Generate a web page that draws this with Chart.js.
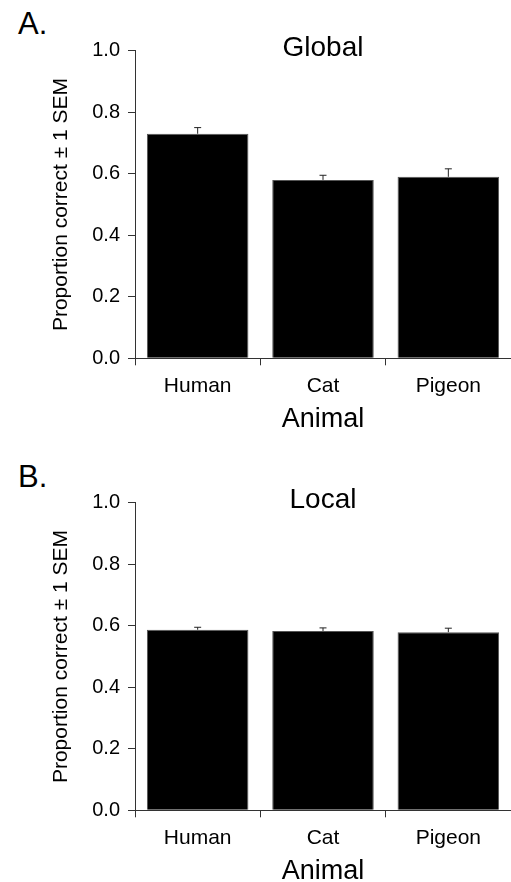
<!DOCTYPE html>
<html>
<head>
<meta charset="utf-8">
<title>Global / Local</title>
<script src="https://cdn.jsdelivr.net/npm/chart.js@4"></script>
<style>
  body { margin: 0; width: 511px; height: 882px; overflow: hidden; background: #fff; position: relative; }
  canvas { position: absolute; left: 0; }
  .panel { position: absolute; left: 18px; font: 31px/1 "Liberation Sans", Arial, sans-serif; color: #000; }
</style>
</head>
<body>
<div class="panel" style="top:8px">A.</div>
<canvas id="globalChart" width="511" height="440" style="top:0"></canvas>
<div class="panel" style="top:461px">B.</div>
<canvas id="localChart" width="511" height="440" style="top:452px"></canvas>
<script>
const animals = ["Human", "Cat", "Pigeon"];
const globalMeans = [0.73, 0.58, 0.59];
const globalSem = [0.02, 0.015, 0.026];
const localMeans = [0.587, 0.583, 0.579];
const localSem = [0.008, 0.01, 0.013];
const yTicks = [0, 0.2, 0.4, 0.6, 0.8, 1.0];

const FONT = "'Liberation Sans', Arial, Helvetica, sans-serif";

// upward error bars (+1 SEM) with a small cap
const errorBars = {
  id: "errorBars",
  afterDatasetsDraw(chart) {
    const { ctx, scales } = chart;
    chart.data.datasets.forEach((ds, i) => {
      const meta = chart.getDatasetMeta(i);
      meta.data.forEach((bar, j) => {
        const y0 = scales.y.getPixelForValue(ds.data[j]);
        const y1 = scales.y.getPixelForValue(ds.data[j] + ds.sem[j]);
        ctx.save();
        ctx.strokeStyle = "#222";
        ctx.lineWidth = 1;
        ctx.beginPath();
        ctx.moveTo(bar.x, y0);
        ctx.lineTo(bar.x, y1);
        ctx.moveTo(bar.x - 3.5, y1);
        ctx.lineTo(bar.x + 3.5, y1);
        ctx.stroke();
        ctx.restore();
      });
    });
  },
};

function makeChart(id, title, means, sem) {
  return new Chart(document.getElementById(id), {
    type: "bar",
    data: {
      labels: animals,
      datasets: [
        {
          data: means,
          sem: sem,
          backgroundColor: "#000",
          borderColor: "#555",
          borderWidth: 1,
          barPercentage: 0.81,
          categoryPercentage: 1,
        },
      ],
    },
    plugins: [errorBars],
    options: {
      responsive: false,
      animation: false,
      layout: { padding: 0 },
      plugins: {
        legend: { display: false },
        tooltip: { enabled: false },
        title: {
          display: true,
          text: title,
          fullSize: false,
          color: "#000",
          font: { family: FONT, size: 28, weight: "normal" },
          padding: { top: 31.2, bottom: -14.1 },
        },
      },
      scales: {
        x: {
          offset: true,
          grid: { drawOnChartArea: false, tickLength: 7, color: "#333" },
          border: { color: "#333" },
          ticks: { color: "#000", padding: 8, font: { family: FONT, size: 21 } },
          title: {
            display: true,
            text: "Animal",
            color: "#000",
            font: { family: FONT, size: 27 },
            padding: { top: 0, bottom: 4 },
          },
          afterFit(scale) {
            scale.height = 81.7;
          },
        },
        y: {
          min: 0,
          max: 1,
          afterBuildTicks(scale) {
            scale.ticks = yTicks.map((v) => ({ value: v }));
          },
          grid: { drawOnChartArea: false, tickLength: 7, color: "#333" },
          border: { color: "#333" },
          ticks: {
            color: "#000",
            padding: 8,
            font: { family: FONT, size: 20 },
            callback: (v) => v.toFixed(1),
          },
          title: {
            display: true,
            text: "Proportion correct ± 1 SEM",
            color: "#000",
            font: { family: FONT, size: 21 },
            padding: { top: 48.4, bottom: 0 },
          },
          afterFit(scale) {
            scale.width = 135;
          },
        },
      },
    },
  });
}

makeChart("globalChart", "Global", globalMeans, globalSem);
makeChart("localChart", "Local", localMeans, localSem);
</script>
</body>
</html>
